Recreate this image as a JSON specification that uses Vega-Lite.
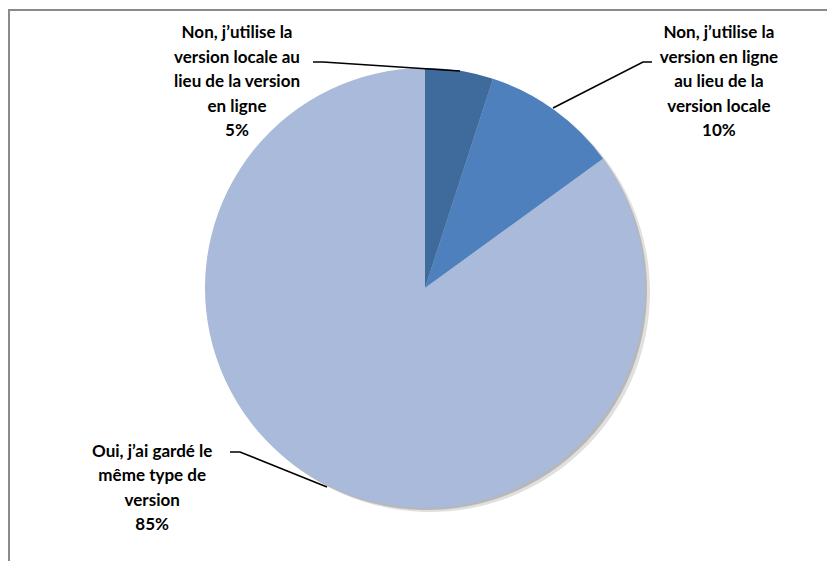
{
  "$schema": "https://vega.github.io/schema/vega-lite/v6.json",
  "width": 832,
  "height": 556,
  "autosize": {"type": "none"},
  "padding": {"left": 9, "top": 10, "right": 0, "bottom": 0},
  "background": "white",
  "view": {"stroke": "#8a8a8a", "strokeWidth": 2},
  "datasets": {
    "slices": [
      {"ord": 1, "categorie": "Non, j’utilise la version locale au lieu de la version en ligne", "pct": 5},
      {"ord": 2, "categorie": "Non, j’utilise la version en ligne au lieu de la version locale", "pct": 10},
      {"ord": 3, "categorie": "Oui, j’ai gardé le même type de version", "pct": 85}
    ],
    "labels": [
      {"lab": "Non, j’utilise la\nversion locale au\nlieu de la version\nen ligne\n5%", "x": -0.8545, "y": 1.159},
      {"lab": "Non, j’utilise la\nversion en ligne\nau lieu de la\nversion locale\n10%", "x": 1.336, "y": 1.159},
      {"lab": "Oui, j’ai gardé le\nmême type de\nversion\n85%", "x": -1.24, "y": -0.745}
    ],
    "leaders": [
      {"s": 1, "o": 1, "x": -0.5091, "y": 1.0273},
      {"s": 1, "o": 2, "x": -0.4636, "y": 1.0273},
      {"s": 1, "o": 3, "x": 0.1591, "y": 0.9864},
      {"s": 2, "o": 1, "x": 1.0318, "y": 1.0273},
      {"s": 2, "o": 2, "x": 0.9909, "y": 1.0273},
      {"s": 2, "o": 3, "x": 0.5818, "y": 0.8182},
      {"s": 3, "o": 1, "x": -0.8864, "y": -0.7455},
      {"s": 3, "o": 2, "x": -0.8409, "y": -0.7455},
      {"s": 3, "o": 3, "x": -0.4455, "y": -0.9045}
    ]
  },
  "layer": [
    {
      "data": {"name": "slices"},
      "mark": {"type": "arc", "outerRadius": 220, "color": "#000000", "opacity": 0.12, "x": {"expr": "width/2 + 5"}, "y": {"expr": "height/2 + 4"}},
      "encoding": {
        "theta": {"field": "pct", "type": "quantitative", "stack": true},
        "order": {"field": "ord", "type": "quantitative"}
      }
    },
    {
      "data": {"name": "slices"},
      "mark": {"type": "arc", "outerRadius": 220, "color": "#000000", "opacity": 0.18, "x": {"expr": "width/2 + 2"}, "y": {"expr": "height/2 + 2"}},
      "encoding": {
        "theta": {"field": "pct", "type": "quantitative", "stack": true},
        "order": {"field": "ord", "type": "quantitative"}
      }
    },
    {
      "data": {"name": "slices"},
      "mark": {"type": "arc", "outerRadius": 220},
      "encoding": {
        "theta": {"field": "pct", "type": "quantitative", "stack": true},
        "order": {"field": "ord", "type": "quantitative"},
        "color": {
          "field": "categorie",
          "type": "nominal",
          "sort": null,
          "scale": {
            "domain": [
              "Non, j’utilise la version locale au lieu de la version en ligne",
              "Non, j’utilise la version en ligne au lieu de la version locale",
              "Oui, j’ai gardé le même type de version"
            ],
            "range": ["#3F6A9C", "#4E80BE", "#AABADA"]
          },
          "legend": null
        }
      }
    },
    {
      "data": {"name": "leaders"},
      "mark": {"type": "line", "color": "#000000", "strokeWidth": 1.6},
      "encoding": {
        "x": {"field": "x", "type": "quantitative", "scale": {"domain": [-1.8909, 1.8909], "nice": false, "zero": false}, "axis": null},
        "y": {"field": "y", "type": "quantitative", "scale": {"domain": [-1.2636, 1.2636], "nice": false, "zero": false}, "axis": null},
        "detail": {"field": "s", "type": "nominal"},
        "order": {"field": "o", "type": "quantitative"}
      }
    },
    {
      "data": {"name": "labels"},
      "mark": {"type": "text", "font": "Lato", "fontWeight": "bold", "fontSize": 17, "lineHeight": 24.5, "lineBreak": "\n", "align": "center", "baseline": "middle", "color": "#000000"},
      "encoding": {
        "x": {"field": "x", "type": "quantitative", "scale": {"domain": [-1.8909, 1.8909], "nice": false, "zero": false}, "axis": null},
        "y": {"field": "y", "type": "quantitative", "scale": {"domain": [-1.2636, 1.2636], "nice": false, "zero": false}, "axis": null},
        "text": {"field": "lab", "type": "nominal"}
      }
    }
  ]
}
